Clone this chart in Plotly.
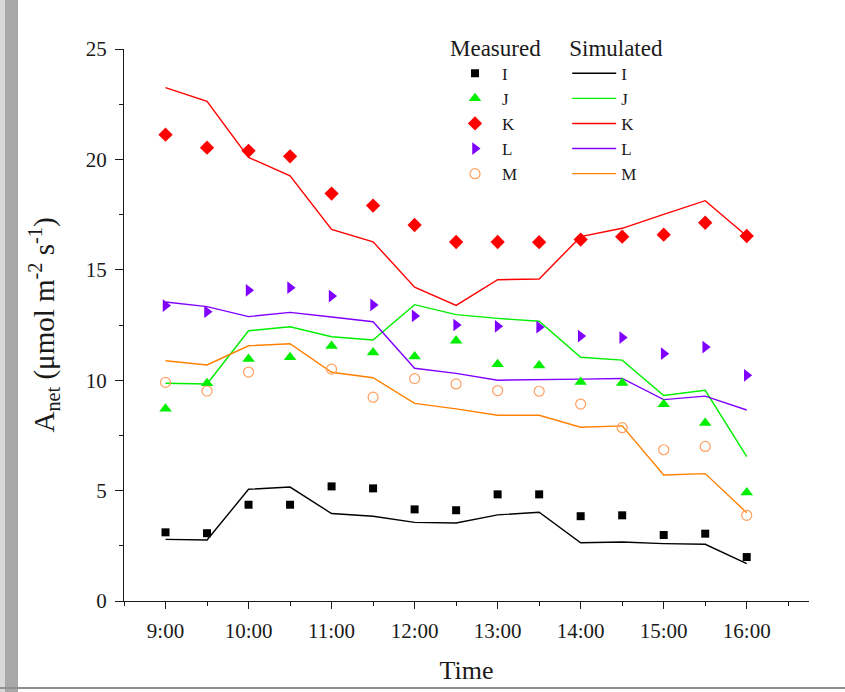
import plotly.graph_objects as go

# Time of day (hours) and tick labels
hours = [9.0, 9.5, 10.0, 10.5, 11.0, 11.5, 12.0, 12.5, 13.0, 13.5, 14.0, 14.5, 15.0, 15.5, 16.0]
tick_vals = [9, 10, 11, 12, 13, 14, 15, 16]
tick_text = ["9:00", "10:00", "11:00", "12:00", "13:00", "14:00", "15:00", "16:00"]

# Measured values
meas_I = [3.11, 3.07, 4.36, 4.36, 5.19, 5.10, 4.15, 4.11, 4.83, 4.83, 3.84, 3.88, 2.99, 3.05, 1.99]
meas_J = [8.71, 9.86, 10.96, 11.04, 11.55, 11.26, 11.07, 11.79, 10.72, 10.67, 9.92, 9.87, 8.91, 8.06, 4.91]
meas_K = [21.12, 20.53, 20.39, 20.14, 18.45, 17.91, 17.03, 16.26, 16.26, 16.25, 16.37, 16.50, 16.59, 17.13, 16.53]
meas_L = [13.38, 13.10, 14.07, 14.19, 13.81, 13.41, 12.91, 12.50, 12.44, 12.40, 12.00, 11.93, 11.20, 11.50, 10.22]
meas_M = [9.90, 9.51, 10.37, None, 10.50, 9.23, 10.07, 9.83, 9.53, 9.50, 8.92, 7.85, 6.85, 7.00, 3.88]

# Simulated values
sim_I = [2.79, 2.76, 5.06, 5.16, 3.96, 3.84, 3.56, 3.53, 3.90, 4.02, 2.64, 2.67, 2.60, 2.57, 1.69]
sim_J = [9.86, 9.83, 12.24, 12.42, 11.97, 11.82, 13.42, 12.97, 12.80, 12.67, 11.04, 10.91, 9.31, 9.54, 6.54]
sim_K = [23.25, 22.63, 20.09, 19.26, 16.83, 16.27, 14.21, 13.39, 14.55, 14.58, 16.50, 16.88, 17.51, 18.13, 16.53]
sim_L = [13.54, 13.33, 12.88, 13.07, 12.86, 12.65, 10.54, 10.31, 10.00, 10.01, 10.05, 10.08, 9.12, 9.28, 8.65]
sim_M = [10.88, 10.69, 11.56, 11.65, 10.36, 10.11, 8.95, 8.70, 8.41, 8.41, 7.87, 7.93, 5.71, 5.77, 4.00]

names = ["I", "J", "K", "L", "M"]
colors = ["#000000", "#00ee00", "#ff0000", "#8000ff", "#ff8000"]
symbols = ["square", "triangle-up", "diamond", "triangle-right", "circle-open"]
msizes = [8, 11, 11, 11, 10]
measured = [meas_I, meas_J, meas_K, meas_L, meas_M]
simulated = [sim_I, sim_J, sim_K, sim_L, sim_M]

FONT = "Liberation Serif, Times New Roman, serif"

fig = go.Figure()

for n, c, s in zip(names, colors, simulated):
    fig.add_trace(go.Scatter(
        x=hours, y=s, mode="lines", name=n,
        line=dict(color=c, width=1.4),
        legend="legend2",
    ))

for n, c, sym, ms, m in zip(names, colors, symbols, msizes, measured):
    marker = dict(symbol=sym, size=ms, color=c)
    if sym == "circle-open":
        marker = dict(symbol=sym, size=ms, color="#ffa060", line=dict(width=1.2, color="#ffa060"))
    fig.add_trace(go.Scatter(
        x=hours, y=m, mode="markers", name=n,
        marker=marker, legend="legend",
    ))

fig.update_layout(
    width=845, height=692,
    margin=dict(l=124, r=36, t=49, b=91),
    paper_bgcolor="white", plot_bgcolor="white",
    font=dict(family=FONT, size=21, color="#1a1a1a"),
    xaxis=dict(
        range=[8.5, 16.75], tickvals=tick_vals, ticktext=tick_text,
        showgrid=False, zeroline=False, showline=True, linecolor="#1a1a1a", linewidth=1.3,
        ticks="outside", ticklen=7, tickwidth=1.3, tickcolor="#1a1a1a",
        minor=dict(dtick=0.5, tick0=8.5, ticks="outside", ticklen=4, tickwidth=1.3, tickcolor="#1a1a1a"),
        title=dict(text="Time", font=dict(size=26), standoff=18),
        tickfont=dict(size=21), ticklabelstandoff=4,
    ),
    yaxis=dict(
        range=[0, 25], dtick=5, tick0=0,
        showgrid=False, zeroline=False, showline=True, linecolor="#1a1a1a", linewidth=1.3,
        ticks="outside", ticklen=8, tickwidth=1.3, tickcolor="#1a1a1a",
        minor=dict(dtick=2.5, ticks="outside", ticklen=4, tickwidth=1.3, tickcolor="#1a1a1a"),
        title=dict(text="A<sub>net</sub> (μmol m<sup>-2</sup> s<sup>-1</sup>)", font=dict(size=29), standoff=22),
        tickfont=dict(size=21), ticklabelstandoff=4,
    ),
    legend=dict(
        x=0.473, y=1.042, xanchor="left", yanchor="top",
        title=dict(text="Measured", font=dict(size=23), side="top"),
        font=dict(size=17), bgcolor="rgba(0,0,0,0)", itemwidth=44,
    ),
    legend2=dict(
        x=0.647, y=1.042, xanchor="left", yanchor="top",
        title=dict(text="Simulated", font=dict(size=23), side="top"),
        font=dict(size=17), bgcolor="rgba(0,0,0,0)", itemwidth=44,
    ),
    shapes=[
        dict(type="rect", xref="paper", yref="paper", x0=-124/685, x1=-106/685, y0=-91/552, y1=1+49/552,
             fillcolor="#a8a8a8", line=dict(width=0), layer="below"),
        dict(type="rect", xref="paper", yref="paper", x0=-124/685, x1=-119/685, y0=-91/552, y1=1+49/552,
             fillcolor="#d8d8d8", line=dict(width=0), layer="below"),
        dict(type="line", xref="paper", yref="paper", x0=-124/685, x1=1+36/685, y0=-87/552, y1=-87/552,
             line=dict(color="#909090", width=2), layer="below"),
    ],
)

fig.write_html("out.html")
